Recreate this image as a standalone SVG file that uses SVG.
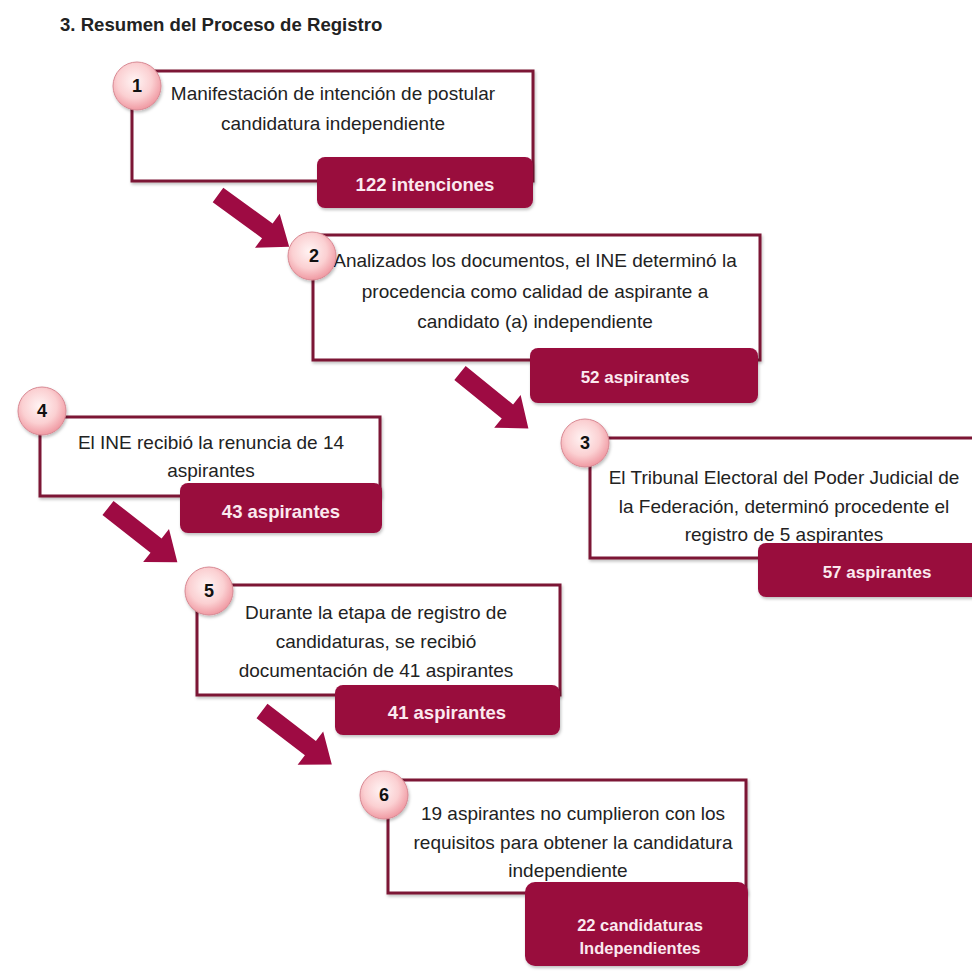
<svg xmlns="http://www.w3.org/2000/svg" xmlns:xlink="http://www.w3.org/1999/xlink" width="972" height="979" viewBox="0 0 972 979">
<style>
.box{fill:#fff;stroke:#7B1535;stroke-width:3;filter:url(#sh)}
.badge{fill:#990A3E;filter:url(#sh)}
.num{fill:url(#cg);stroke:#d88a94;stroke-width:1;filter:url(#sh)}
.t{font-family:"Liberation Sans",Arial,sans-serif;font-size:19px;fill:#222;text-anchor:middle}
.n{font-family:"Liberation Sans",Arial,sans-serif;font-size:18px;font-weight:bold;fill:#111;text-anchor:middle}
.b{font-family:"Liberation Sans",Arial,sans-serif;font-weight:bold;fill:#fbe9ef;text-anchor:middle}
.arrow{fill:#9E0B43}
</style>
<defs>
<radialGradient id="cg" cx="0.45" cy="0.4" r="0.6">
<stop offset="0" stop-color="#fff4f4"/>
<stop offset="0.6" stop-color="#fbd0d2"/>
<stop offset="1" stop-color="#f09aa3"/>
</radialGradient>
<filter id="sh" x="-10%" y="-10%" width="125%" height="130%">
<feDropShadow dx="1" dy="2" stdDeviation="1.5" flood-color="#000" flood-opacity="0.25"/>
</filter>
<path id="arr" d="M0,-9 L61,-9 L61,-21 L88,0 L61,21 L61,9 L0,9 Z"/>
</defs>
<rect width="972" height="979" fill="#fff"/>
<text x="60" y="31" font-family="'Liberation Sans',Arial,sans-serif" font-size="18.6px" font-weight="bold" fill="#222">3. Resumen del Proceso de Registro</text>

<g id="connectors" class="arrow">
<use xlink:href="#arr" transform="translate(218,195) rotate(36)"/>
<use xlink:href="#arr" transform="translate(460,373) rotate(39)"/>
<use xlink:href="#arr" transform="translate(108,508) rotate(38)"/>
<use xlink:href="#arr" transform="translate(262,711) rotate(37.5)"/>
</g>

<g id="node1">
<rect class="box" x="132" y="71" width="401" height="110"/>
<text class="t" x="333" y="100">Manifestación de intención de postular</text>
<text class="t" x="333" y="130">candidatura independiente</text>
<rect class="badge" x="317" y="157" width="216" height="51" rx="8"/>
<text class="b" x="425" y="191" font-size="18.5px">122 intenciones</text>
<circle class="num" cx="137" cy="86" r="24"/>
<text class="n" x="137" y="92">1</text>
</g>

<g id="node2">
<rect class="box" x="313" y="235" width="447" height="125"/>
<text class="t" x="535" y="267">Analizados los documentos, el INE determinó la</text>
<text class="t" x="535" y="298">procedencia como calidad de aspirante a</text>
<text class="t" x="535" y="328">candidato (a) independiente</text>
<rect class="badge" x="530" y="348" width="228" height="55" rx="8"/>
<text class="b" x="635" y="383" font-size="17px">52 aspirantes</text>
<circle class="num" cx="312" cy="256" r="24"/>
<text class="n" x="314" y="262">2</text>
</g>

<g id="node3">
<rect class="box" x="590" y="438" width="400" height="120"/>
<text class="t" x="784" y="484">El Tribunal Electoral del Poder Judicial de</text>
<text class="t" x="784" y="513">la Federación, determinó procedente el</text>
<text class="t" x="784" y="541">registro de 5 aspirantes</text>
<rect class="badge" x="758" y="543" width="230" height="54" rx="8"/>
<text class="b" x="877" y="578" font-size="17px">57 aspirantes</text>
<circle class="num" cx="585" cy="443" r="24"/>
<text class="n" x="585" y="449">3</text>
</g>

<g id="node4">
<rect class="box" x="40" y="417" width="340" height="79"/>
<text class="t" x="211" y="449">El INE recibió la renuncia de 14</text>
<text class="t" x="211" y="477">aspirantes</text>
<rect class="badge" x="180" y="483" width="202" height="50" rx="8"/>
<text class="b" x="281" y="518" font-size="18.5px">43 aspirantes</text>
<circle class="num" cx="42" cy="411" r="24"/>
<text class="n" x="42" y="417">4</text>
</g>

<g id="node5">
<rect class="box" x="197" y="585" width="363" height="110"/>
<text class="t" x="376" y="619">Durante la etapa de registro de</text>
<text class="t" x="376" y="648">candidaturas, se recibió</text>
<text class="t" x="376" y="677">documentación de 41 aspirantes</text>
<rect class="badge" x="335" y="685" width="225" height="50" rx="8"/>
<text class="b" x="447" y="719" font-size="18.5px">41 aspirantes</text>
<circle class="num" cx="209" cy="591" r="24"/>
<text class="n" x="209" y="597">5</text>
</g>

<g id="node6">
<rect class="box" x="388" y="780" width="358" height="113"/>
<text class="t" x="573" y="820">19 aspirantes no cumplieron con los</text>
<text class="t" x="573" y="849">requisitos para obtener la candidatura</text>
<text class="t" x="568" y="877">independiente</text>
<rect class="badge" x="525" y="882" width="223" height="84" rx="10"/>
<text class="b" x="640" y="931" font-size="16.5px">22 candidaturas</text>
<text class="b" x="640" y="954" font-size="16.5px">Independientes</text>
<circle class="num" cx="384" cy="795" r="24"/>
<text class="n" x="384" y="801">6</text>
</g>
</svg>
